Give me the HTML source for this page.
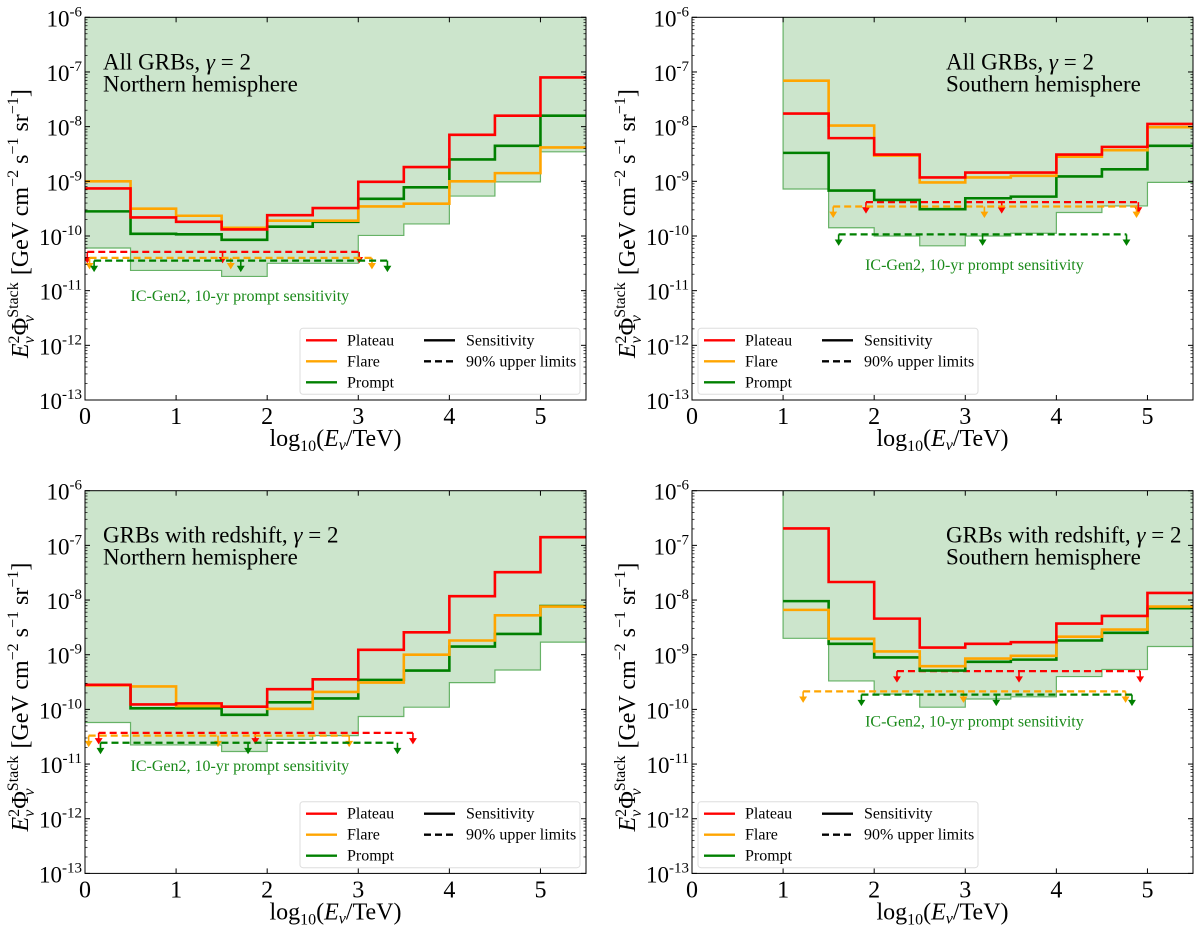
<!DOCTYPE html>
<html><head><meta charset="utf-8">
<style>
html,body{margin:0;padding:0;background:#fff;}
svg{display:block;font-family:"Liberation Serif",serif;}
</style></head>
<body>
<svg id="fig" width="1200" height="928" viewBox="0 0 1200 928" xmlns="http://www.w3.org/2000/svg"></svg>
<script>
// ---- data (log10 of E^2 Phi, GeV cm^-2 s^-1 sr^-1) ----
const edgesNorth = [0,0.5,1,1.5,2,2.5,3,3.5,4,4.5,5,5.5];
const edgesSouth = [1,1.5,2,2.5,3,3.5,4,4.5,5,5.5];

const tlPlateau = [-9.13,-9.66,-9.74,-9.88,-9.62,-9.49,-9.01,-8.74,-8.15,-7.80,-7.10];
const tlFlare   = [-9.00,-9.50,-9.63,-9.85,-9.72,-9.72,-9.46,-9.41,-9.00,-8.85,-8.38];
const tlPrompt  = [-9.55,-9.96,-9.97,-10.07,-9.83,-9.74,-9.32,-9.11,-8.60,-8.35,-7.80];
const tlBand    = [-10.22,-10.63,-10.63,-10.74,-10.50,-10.50,-9.99,-9.78,-9.27,-9.01,-8.46];
const tlULlevel = [-10.29,-10.40,-10.45];
const tlULx     = [[0.025,1.51,3.01],[0.05,1.6,3.15],[0.1,1.71,3.32]];

const trPlateau = [-7.76,-8.21,-8.51,-8.93,-8.84,-8.84,-8.51,-8.37,-7.95];
const trFlare   = [-7.16,-7.98,-8.53,-9.02,-8.93,-8.90,-8.55,-8.43,-8.01];
const trPrompt  = [-8.48,-9.17,-9.34,-9.51,-9.31,-9.28,-8.91,-8.78,-8.35];
const trBand    = [-9.14,-9.85,-10.00,-10.18,-10.00,-9.95,-9.57,-9.45,-9.02];
const trULlevel = [-9.38,-9.46,-9.97];
const trULx     = [[1.91,3.40,4.90],[1.55,3.21,4.88],[1.61,3.19,4.77]];

const blPlateau = [-9.55,-9.91,-9.89,-9.95,-9.63,-9.45,-8.91,-8.59,-7.93,-7.49,-6.85];
const blFlare   = [-9.56,-9.58,-9.94,-9.95,-9.99,-9.68,-9.51,-9.00,-8.74,-8.28,-8.12];
const blPrompt  = [-9.55,-9.98,-9.98,-10.10,-9.87,-9.80,-9.46,-9.29,-8.85,-8.62,-8.11];
const blBand    = [-10.24,-10.65,-10.65,-10.77,-10.55,-10.48,-10.13,-9.96,-9.51,-9.28,-8.77];
const blULlevel = [-10.43,-10.48,-10.61];
const blULx     = [[0.15,1.87,3.60],[0.04,1.46,2.90],[0.17,1.79,3.43]];

const brPlateau = [-6.69,-7.67,-8.34,-8.87,-8.80,-8.77,-8.43,-8.29,-7.87];
const brFlare   = [-8.18,-8.71,-8.94,-9.21,-9.07,-9.02,-8.67,-8.54,-8.12];
const brPrompt  = [-8.02,-8.80,-9.05,-9.29,-9.13,-9.09,-8.74,-8.60,-8.15];
const brBand    = [-8.70,-9.48,-9.72,-9.96,-9.81,-9.77,-9.40,-9.27,-8.85];
const brULlevel = [-9.30,-9.67,-9.73];
const brULx     = [[2.25,3.59,4.92],[1.22,2.98,4.76],[1.86,3.34,4.83]];

const xTicks = [0,1,2,3,4,5];
const yTicks = [-6,-7,-8,-9,-10,-11,-12,-13];
const seriesNames = ["Plateau","Flare","Prompt"];
const seriesColors = ["#ff0000","#ffa500","#008000"];

const panels = [
 {id:"tl",x0:85,y0:17.3,edges:edgesNorth,P:tlPlateau,F:tlFlare,G:tlPrompt,B:tlBand,UL:tlULlevel,ULx:tlULx,
  t1:"All GRBs, ",t2:"Northern hemisphere",tx:103,lab:[0.5,-11.1],legLeft:true},
 {id:"tr",x0:692,y0:17.3,edges:edgesSouth,P:trPlateau,F:trFlare,G:trPrompt,B:trBand,UL:trULlevel,ULx:trULx,
  t1:"All GRBs, ",t2:"Southern hemisphere",tx:946,lab:[1.9,-10.53],legLeft:false},
 {id:"bl",x0:85,y0:490.7,edges:edgesNorth,P:blPlateau,F:blFlare,G:blPrompt,B:blBand,UL:blULlevel,ULx:blULx,
  t1:"GRBs with redshift, ",t2:"Northern hemisphere",tx:103,lab:[0.5,-11.04],legLeft:true},
 {id:"br",x0:692,y0:490.7,edges:edgesSouth,P:brPlateau,F:brFlare,G:brPrompt,B:brBand,UL:brULlevel,ULx:brULx,
  t1:"GRBs with redshift, ",t2:"Southern hemisphere",tx:946,lab:[1.9,-10.22],legLeft:false}
];

const NS="http://www.w3.org/2000/svg";
const svg=document.getElementById("fig");
function mk(tag,attrs,parent){const e=document.createElementNS(NS,tag);for(const k in attrs)e.setAttribute(k,attrs[k]);(parent||svg).appendChild(e);return e;}

const W=501,H=382.7;
panels.forEach(p=>{
  const g=mk("g",{});
  
  
  const X=v=>p.x0+v/5.5*W;
  const Y=l=>p.y0+(-6-l)/7*H;
  const clipId="clip-"+p.id;
  const cp=mk("clipPath",{id:clipId},g);mk("rect",{x:p.x0,y:p.y0,width:W,height:H},cp);
  const pg=mk("g",{"clip-path":"url(#"+clipId+")"},g);
  const e=p.edges;
  let d="M"+X(e[0])+","+Y(-6);
  for(let i=0;i<p.B.length;i++){d+=" L"+X(e[i])+","+Y(p.B[i])+" L"+X(e[i+1])+","+Y(p.B[i]);}
  d+=" L"+X(e[e.length-1])+","+Y(-6)+"Z";
  const band=mk("path",{d:d,fill:"#cce5cc",stroke:"none"},pg);
  
  
  let d2="";
  for(let i=0;i<p.B.length;i++){d2+=(i?" L":"M")+X(e[i])+","+Y(p.B[i])+" L"+X(e[i+1])+","+Y(p.B[i]);}
  if(e[0]>0) d2="M"+X(e[0])+","+Y(-6)+" L"+d2.slice(1);
  const bl=mk("path",{d:d2,fill:"none",stroke:"#66b266","stroke-width":1.2},pg);
  
  
  [0,1,2].forEach(s=>{
    const yy=Y(p.UL[s]);const xs=p.ULx[s];
    const ln=mk("line",{x1:X(xs[0]),x2:X(xs[2]),y1:yy,y2:yy,stroke:seriesColors[s],"stroke-width":2.2,"stroke-dasharray":"7,4"},pg);
    
    
    xs.forEach(xv=>{
      const ax=X(xv);
      const a=mk("path",{d:"M"+ax+","+yy+" V"+(yy+9)+" M"+(ax-2.5)+","+(yy+6)+" L"+ax+","+(yy+10)+" L"+(ax+2.5)+","+(yy+6)+"Z",stroke:seriesColors[s],fill:seriesColors[s],"stroke-width":1.6},pg);
      
      
    });
  });
  [p.G,p.F,p.P].forEach((arr,k)=>{
    const s=[2,1,0][k];
    let dd="";
    for(let i=0;i<arr.length;i++){dd+=(i?" L":"M")+X(e[i])+","+Y(arr[i])+" L"+X(e[i+1])+","+Y(arr[i]);}
    const ln=mk("path",{d:dd,fill:"none",stroke:seriesColors[s],"stroke-width":2.6},pg);
    
    
  });
  mk("rect",{x:p.x0,y:p.y0,width:W,height:H,fill:"none",stroke:"#000","stroke-width":1},g);
  yTicks.forEach(t=>{
    const yy=Y(t);
    mk("line",{x1:p.x0,x2:p.x0+5,y1:yy,y2:yy,stroke:"#000"},g);
    mk("line",{x1:p.x0+W,x2:p.x0+W-5,y1:yy,y2:yy,stroke:"#000"},g);
    if(t>-13)for(let m=2;m<10;m++){const ym=Y(t-1+Math.log10(m));
      mk("line",{x1:p.x0,x2:p.x0+2.5,y1:ym,y2:ym,stroke:"#000","stroke-width":0.7},g);
      mk("line",{x1:p.x0+W,x2:p.x0+W-2.5,y1:ym,y2:ym,stroke:"#000","stroke-width":0.7},g);}
    const tx=mk("text",{x:p.x0-3,y:yy+9,"text-anchor":"end","font-size":23},g);
    
    
    tx.innerHTML='10<tspan dy="-10" font-size="15">'+t+'</tspan>';
  });
  xTicks.forEach(t=>{
    const xx=X(t);
    mk("line",{x1:xx,x2:xx,y1:p.y0+H,y2:p.y0+H-5,stroke:"#000"},g);
    mk("line",{x1:xx,x2:xx,y1:p.y0,y2:p.y0+5,stroke:"#000"},g);
    const tx=mk("text",{x:xx,y:p.y0+H+24,"text-anchor":"middle","font-size":24},g);
    
    
    tx.textContent=t;
  });
  const xl=mk("text",{x:p.x0+W/2,y:p.y0+H+46,"text-anchor":"middle","font-size":24},g);
  
  
  xl.innerHTML='log<tspan dy="5" font-size="16">10</tspan><tspan dy="-5">(</tspan><tspan font-style="italic">E</tspan><tspan dy="4" font-size="16" font-style="italic">ν</tspan><tspan dy="-4">/TeV)</tspan>';
  const ycx=p.x0-57, ycy=p.y0+H/2+15;
  const yl=mk("text",{x:ycx,y:ycy,"text-anchor":"middle","font-size":24,transform:"rotate(-90 "+ycx+" "+ycy+")"},g);
  
  
  yl.innerHTML='<tspan font-style="italic">E</tspan><tspan dy="-9" font-size="16">2</tspan><tspan dx="-8" dy="15" font-size="16" font-style="italic">ν</tspan><tspan dx="1" dy="-6">Φ</tspan><tspan dy="-10" font-size="16">Stack</tspan><tspan dx="-40" dy="16" font-size="16" font-style="italic">ν</tspan><tspan dx="34" dy="-6"> [GeV cm</tspan><tspan dy="-10" font-size="16">−2</tspan><tspan dy="10"> s</tspan><tspan dy="-10" font-size="16">−1</tspan><tspan dy="10"> sr</tspan><tspan dy="-10" font-size="16">−1</tspan><tspan dy="10">]</tspan>';
  const t1=mk("text",{x:p.tx,y:p.y0+52,"font-size":23},g);
  
  
  t1.innerHTML=p.t1+'<tspan font-style="italic">γ</tspan> = 2';
  const t2=mk("text",{x:p.tx,y:p.y0+74,"font-size":23},g);
  
  
  t2.textContent=p.t2;
  const lt=mk("text",{x:X(p.lab[0]),y:Y(p.lab[1])+5,"font-size":16,fill:"#1a8a1a"},g);
  
  
  lt.textContent="IC-Gen2, 10-yr prompt sensitivity";
  const lx=p.legLeft?p.x0+215:p.x0+6, ly=p.y0+311;
  const lg=mk("g",{},g);
  
  
  mk("rect",{x:lx,y:ly,width:280,height:66,rx:3,fill:"#fff","fill-opacity":0.85,stroke:"#ddd"},lg);
  seriesNames.forEach((n,i)=>{
    const yy=ly+12+i*21;
    mk("line",{x1:lx+6,x2:lx+37,y1:yy,y2:yy,stroke:seriesColors[i],"stroke-width":2.4},lg);
    const t=mk("text",{x:lx+47,y:yy+5,"font-size":16},lg);
    
    
    t.textContent=n;
  });
  mk("line",{x1:lx+124,x2:lx+155,y1:ly+12,y2:ly+12,stroke:"#000","stroke-width":2.4},lg);
  mk("line",{x1:lx+124,x2:lx+155,y1:ly+33,y2:ly+33,stroke:"#000","stroke-width":2.4,"stroke-dasharray":"7,4"},lg);
  const s1=mk("text",{x:lx+166,y:ly+17,"font-size":16},lg);
  
  
  s1.textContent="Sensitivity";
  const s2=mk("text",{x:lx+166,y:ly+38,"font-size":16},lg);
  
  
  s2.textContent="90% upper limits";
});
</script>
</body></html>
